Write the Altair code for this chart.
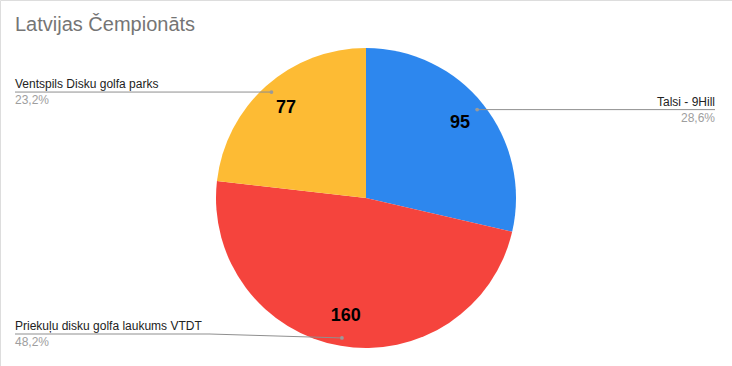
import altair as alt
import pandas as pd

# Slice data
names = ["Talsi - 9Hill", "Priekuļu disku golfa laukums VTDT", "Ventspils Disku golfa parks"]
values = [95, 160, 77]
colors = ["#2d87ee", "#f5443d", "#fdbb34"]
title_text = "Latvijas Čempionāts"

df = pd.DataFrame({"name": names, "value": values, "idx": list(range(len(names)))})

# Layout parameters (pixels)
W, H = 732, 366
CX, CY = 366, 198          # pie centre
R = 150                    # pie radius
DOT_R = 142                # radius of leader-line anchor dots
VALUE_R = 120              # radius of the value labels inside slices
ELBOW = 157                # horizontal distance of leader-line elbow from centre
LEFT_X, RIGHT_X = 15, 715  # label columns
LINE_Y_MAX = 334           # lowest allowed leader-line row
FONT = "Liberation Sans"
LINE_C = "#8f8f8f"

base = alt.Chart(df)

theta = alt.Theta("value:Q", stack=True)
order = alt.Order("idx:Q")

pie = base.mark_arc(outerRadius=R).encode(
    theta=theta,
    order=order,
    color=alt.Color("name:N", scale=alt.Scale(domain=names, range=colors), legend=None),
    x=alt.value(CX),
    y=alt.value(CY),
)

value_labels = base.mark_text(
    radius=VALUE_R, fontSize=18, fontWeight="bold", font=FONT, color="#000000", baseline="middle"
).encode(
    theta=theta,
    order=order,
    text="value:Q",
    x=alt.value(CX),
    y=alt.value(CY),
)

# Leader-line geometry derived from each slice's mid angle
geo = (
    base.transform_joinaggregate(total="sum(value)")
    .transform_window(cum="sum(value)", sort=[alt.SortField("idx")], frame=[None, 0])
    .transform_calculate(mid="(datum.cum - datum.value / 2) / datum.total * 2 * PI")
    .transform_calculate(dx=f"{CX} + {DOT_R} * sin(datum.mid)")
    .transform_calculate(dy=f"{CY} - {DOT_R} * cos(datum.mid)")
    .transform_calculate(left=f"datum.dx < {CX}")
    .transform_calculate(ex=f"datum.left ? {CX - ELBOW} : {CX + ELBOW}")
    .transform_calculate(lx=f"datum.left ? {LEFT_X} : {RIGHT_X}")
    .transform_calculate(ly=f"min(datum.dy, {LINE_Y_MAX})")
    .transform_calculate(ny="datum.ly - 4")
    .transform_calculate(py="datum.ly + 12")
    .transform_calculate(
        pct="replace(format(datum.value / datum.total * 100, '.1f'), '.', ',') + '%'"
    )
)


def px(field):
    return alt.X(f"{field}:Q", scale=None, axis=None)


def py(field):
    return alt.Y(f"{field}:Q", scale=None, axis=None)


seg1 = geo.mark_rule(color=LINE_C, strokeWidth=1).encode(
    x=px("dx"), y=py("dy"), x2="ex:Q", y2="ly:Q"
)
seg2 = geo.mark_rule(color=LINE_C, strokeWidth=1).encode(
    x=px("ex"), y=py("ly"), x2="lx:Q", y2="ly:Q"
)
dots = geo.mark_circle(size=14, color="#9a9a9a", opacity=1).encode(x=px("dx"), y=py("dy"))


def side_labels(cond, align):
    g = geo.transform_filter(cond)
    name = g.mark_text(
        align=align, baseline="alphabetic", fontSize=12, font=FONT, color="#222222"
    ).encode(x=px("lx"), y=py("ny"), text="name:N")
    pct = g.mark_text(
        align=align, baseline="alphabetic", fontSize=12, font=FONT, color="#9e9e9e"
    ).encode(x=px("lx"), y=py("py"), text="pct:N")
    return [name, pct]


labels = side_labels("datum.left", "left") + side_labels("!datum.left", "right")

title = alt.Chart(pd.DataFrame({"t": [title_text]})).mark_text(
    align="left", baseline="alphabetic", fontSize=20, font=FONT, color="#757575"
).encode(x=alt.value(15), y=alt.value(31), text="t:N")

chart = (
    alt.layer(pie, value_labels, seg1, seg2, dots, *labels, title)
    .properties(width=W, height=H, autosize=alt.AutoSizeParams(type="none"), padding=0)
    .configure_view(stroke=None)
    .configure(background="white")
)

chart.save("out.html", embed_options={"renderer": "svg", "actions": False})
